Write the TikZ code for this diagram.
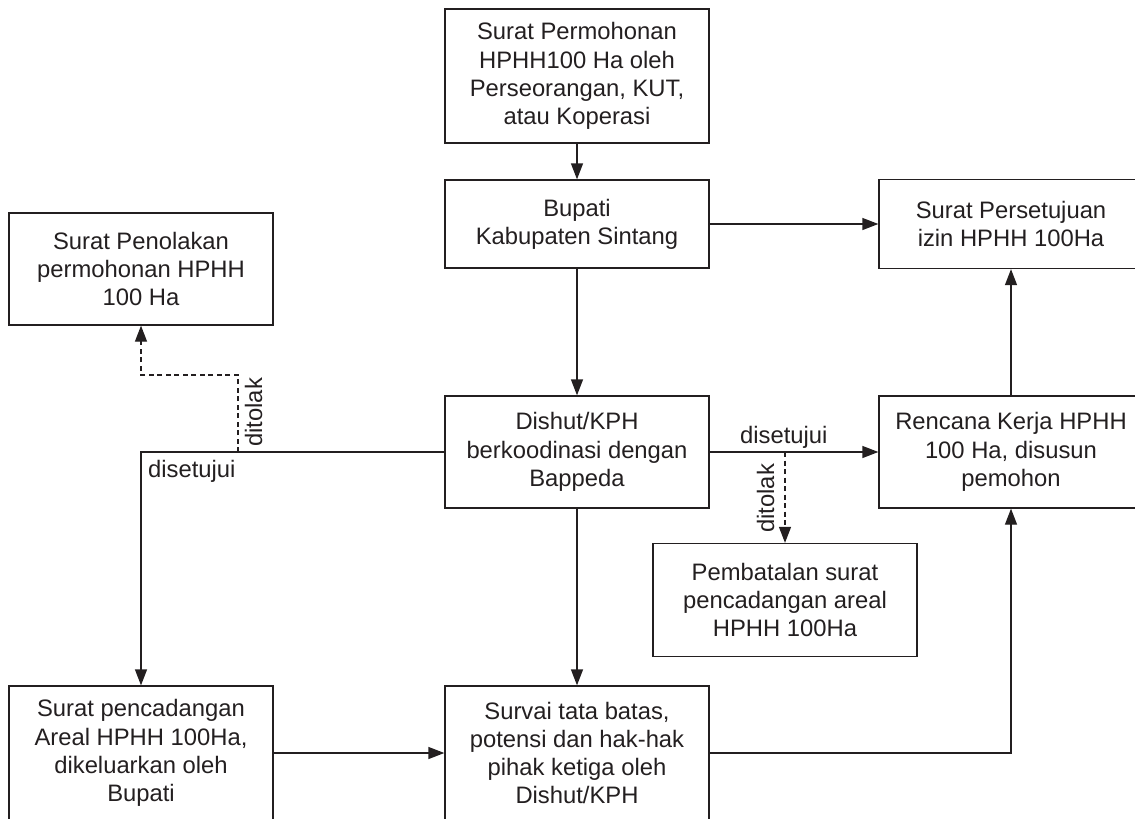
\documentclass[tikz,border=0pt]{standalone}
\usepackage{fontspec}
\setmainfont{Liberation Sans}
\usetikzlibrary{arrows.meta}
\definecolor{ink}{HTML}{231F20}
\begin{document}
\begin{tikzpicture}[x=1pt,y=-1pt,
  box/.style={draw=ink,line width=1.3pt,text=ink,align=center,minimum width=264pt,inner sep=0pt,font=\fontsize{23.8}{28.3}\selectfont},
  arr/.style={draw=ink,line width=1.3pt,-{Triangle[length=16pt,width=12pt]}},
  dsh/.style={arr,dash pattern=on 5pt off 3.5pt},
  lbl/.style={text=ink,font=\fontsize{23.8}{28.3}\selectfont,inner sep=0pt}]
\useasboundingbox (0,0) rectangle (1135,819);
\clip (0,0) rectangle (1135,819);

\node[box,minimum height=134pt] (req) at (577,76) {Surat Permohonan\\HPHH100 Ha oleh\\Perseorangan, KUT,\\atau Koperasi};
\node[box,minimum height=88pt] (bup) at (577,224) {Bupati\\Kabupaten Sintang};
\node[box,minimum height=89pt] (appr) at (1011,224) {Surat Persetujuan\\izin HPHH 100Ha};
\node[box,minimum height=112pt] (rej) at (141,269) {Surat Penolakan\\permohonan HPHH\\100 Ha};
\node[box,minimum height=112pt] (dis) at (577,452) {Dishut/KPH\\berkoodinasi dengan\\Bappeda};
\node[box,minimum height=112pt] (ren) at (1011,452) {Rencana Kerja HPHH\\100 Ha, disusun\\pemohon};
\node[box,minimum height=113pt] (bat) at (785,600) {Pembatalan surat\\pencadangan areal\\HPHH 100Ha};
\node[box,minimum height=134pt] (spc) at (141,753) {Surat pencadangan\\Areal HPHH 100Ha,\\dikeluarkan oleh\\Bupati};
\node[box,minimum height=134pt] (sur) at (577,753) {Survai tata batas,\\potensi dan hak-hak\\pihak ketiga oleh\\Dishut/KPH};

\coordinate (jl) at (238,452);
\coordinate (jr) at (785,452);

\draw[arr] (req) -- (bup);
\draw[arr] (bup) -- (appr);
\draw[arr] (bup) -- (dis);
\draw[arr] (dis.west) -| (spc.north);
\draw[dsh] (jl) |- (141,375) -- (rej.south);
\draw[arr] (dis.east) -- (ren.west);
\draw[dsh] (jr) -- (bat.north);
\draw[arr] (dis) -- (sur);
\draw[arr] (spc.east) -- (sur.west);
\draw[arr] (sur.east) -| (ren.south);
\draw[arr] (ren) -- (appr);

\node[lbl,anchor=base west] (l1) at (148,477) {disetujui};
\node[lbl,anchor=base west,rotate=90] (l2) at (262,447) {ditolak};
\node[lbl,anchor=base west] (l3) at (740,443) {disetujui};
\node[lbl,anchor=base west,rotate=90] (l4) at (774,533) {ditolak};
\end{tikzpicture}
\end{document}
